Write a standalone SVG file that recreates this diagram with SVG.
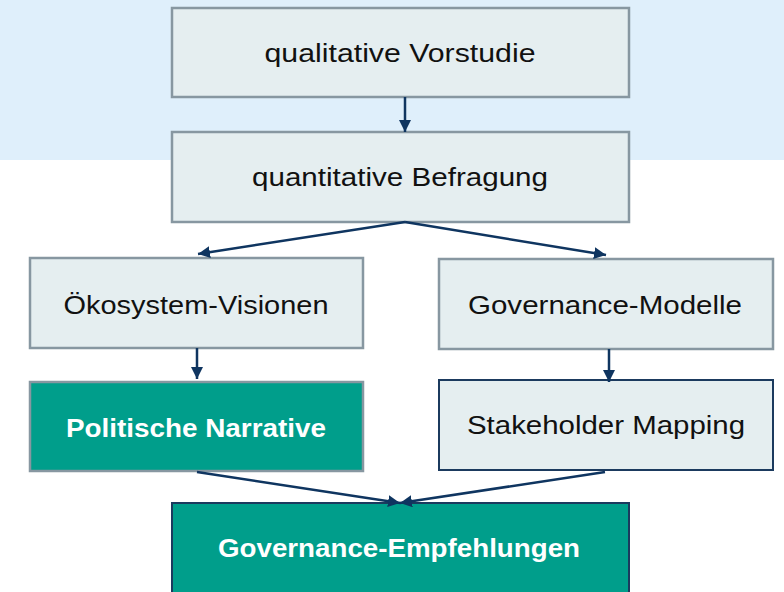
<svg xmlns="http://www.w3.org/2000/svg" width="784" height="592" viewBox="0 0 784 592">
<style>
.box{fill:#e5eef0;stroke:#8797a1;stroke-width:2.5}
.boxb{fill:#e5eef0;stroke:#1b3a5e;stroke-width:2}
.teal{fill:#009e8b;stroke:#8797a1;stroke-width:2.5}
.tealb{fill:#009e8b;stroke:#1b3a5e;stroke-width:2}
.t{font-family:"Liberation Sans",Arial,sans-serif;font-size:26px;fill:#111;text-anchor:middle}
.tw{font-family:"Liberation Sans",Arial,sans-serif;font-size:26px;font-weight:bold;fill:#fff;text-anchor:middle}
.c{stroke:#0f3560;stroke-width:2.5;fill:none;marker-end:url(#ah)}
</style>
<defs>
<marker id="ah" viewBox="0 0 12 12" refX="12" refY="6" markerWidth="12" markerHeight="12" markerUnits="userSpaceOnUse" orient="auto">
<path d="M0,0 L12,6 L0,12 z" fill="#0f3560"/>
</marker>
</defs>
<rect x="0" y="0" width="784" height="160" fill="#dfeffb"/>
<g id="n1"><rect class="box" x="172" y="8" width="457" height="89"/><text class="t" x="400" y="62" textLength="271" lengthAdjust="spacingAndGlyphs">qualitative Vorstudie</text></g>
<g id="n2"><rect class="box" x="172" y="132" width="457" height="90"/><text class="t" x="400" y="186" textLength="296" lengthAdjust="spacingAndGlyphs">quantitative Befragung</text></g>
<g id="n3"><rect class="box" x="30" y="258" width="333" height="90"/><text class="t" x="196" y="314" textLength="265" lengthAdjust="spacingAndGlyphs">Ökosystem-Visionen</text></g>
<g id="n4"><rect class="box" x="439" y="259" width="334" height="90"/><text class="t" x="605" y="314" textLength="274" lengthAdjust="spacingAndGlyphs">Governance-Modelle</text></g>
<g id="n5"><rect class="teal" x="30" y="382" width="333" height="89"/><text class="tw" x="196" y="437" textLength="260" lengthAdjust="spacingAndGlyphs">Politische Narrative</text></g>
<g id="n6"><rect class="boxb" x="439" y="380" width="334" height="90"/><text class="t" x="606" y="434" textLength="278" lengthAdjust="spacingAndGlyphs">Stakeholder Mapping</text></g>
<g id="n7"><rect class="tealb" x="172" y="503" width="457" height="100"/><text class="tw" x="399" y="557" textLength="362" lengthAdjust="spacingAndGlyphs">Governance-Empfehlungen</text></g>
<g id="connectors">
<line class="c" x1="405" y1="97" x2="405" y2="132"/>
<line class="c" x1="405" y1="222" x2="198" y2="254"/>
<line class="c" x1="405" y1="222" x2="606" y2="255"/>
<line class="c" x1="197" y1="348" x2="197" y2="379"/>
<line class="c" x1="609" y1="349" x2="609" y2="382"/>
<line class="c" x1="197" y1="472" x2="400" y2="503"/>
<line class="c" x1="605" y1="472" x2="400" y2="503"/>
</g>
</svg>
